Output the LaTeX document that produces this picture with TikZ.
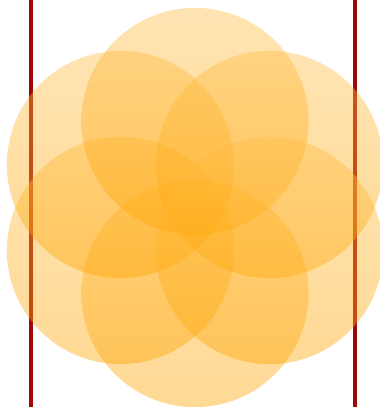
\documentclass[tikz,border=0pt]{standalone}
\usepackage{tikz}
\definecolor{barred}{HTML}{A00808}
\definecolor{petal}{HTML}{FFA500}

\begin{document}
\begin{tikzpicture}[x=0.025cm, y=-0.025cm]
  % Bounding box (380 x 407)
  \useasboundingbox (0,0) rectangle (380,407);
  % Vertical bars
  \draw[barred, line width=0.1cm] (31,0) -- (31,407);
  \draw[barred, line width=0.1cm] (355,0) -- (355,407);
  % Centre of the flower
  \coordinate (mid) at (195,207.5);
  % Six petals
  \foreach \a in {90,150,210,270,330,30} {
    \shade[top color=petal!72, bottom color=petal, fill opacity=0.42]
      (mid) ++(\a:86) circle (2.84cm);
  }
\end{tikzpicture}
\end{document}
